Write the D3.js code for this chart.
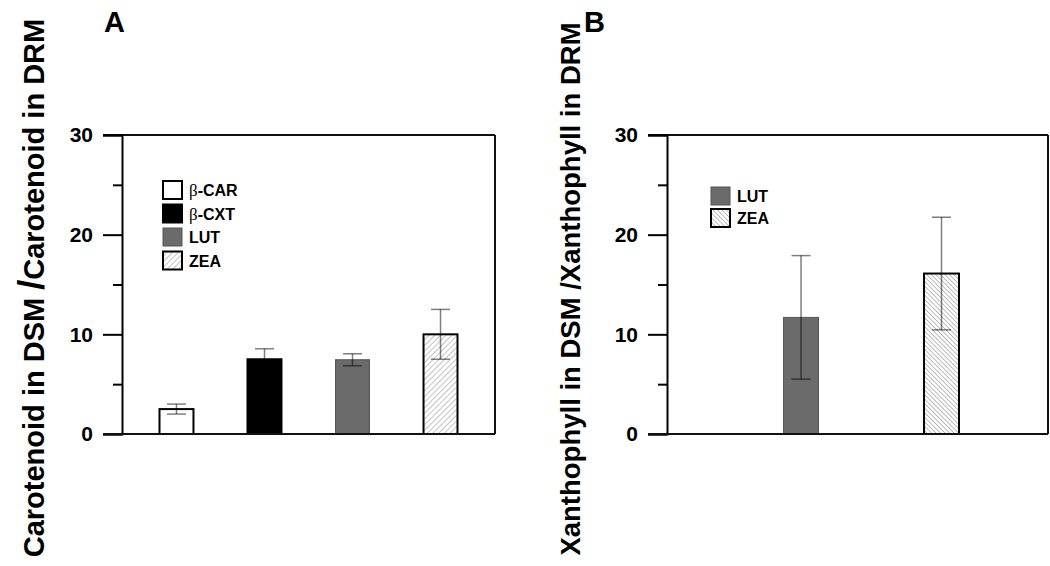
<!DOCTYPE html>
<html>
<head>
<meta charset="utf-8">
<script src="https://cdn.jsdelivr.net/npm/d3@7"></script>
<style>
  html, body { margin: 0; padding: 0; background: #fff; }
  svg { display: block; font-family: "Liberation Sans", Arial, sans-serif; }
</style>
</head>
<body>
<svg id="chart" width="1050" height="566"></svg>
<script>
// ---- Data ----
const catsA = ["β-CAR", "β-CXT", "LUT", "ZEA"];
const valsA = [2.5, 7.5, 7.45, 10.0];
const errsA = [0.5, 1.05, 0.6, 2.5];

const catsB = ["LUT", "ZEA"];
const valsB = [11.7, 16.1];
const errsB = [6.2, 5.65];

const yTicks = [0, 10, 20, 30];
const yMinorTicks = [5, 15, 25];

const titleA = ["Carotenoid in DSM ", "/", "Carotenoid in DRM"];
const titleB = ["Xanthophyll in DSM ", "/", "Xanthophyll in DRM"];

// ---- Setup ----
const svg = d3.select("#chart");
const defs = svg.append("defs");

function hatch(id, dir, spacing, color, width) {
  const p = defs.append("pattern")
    .attr("id", id).attr("patternUnits", "userSpaceOnUse")
    .attr("width", spacing).attr("height", spacing)
    .attr("patternTransform", `rotate(${dir})`);
  p.append("rect").attr("width", spacing).attr("height", spacing).attr("fill", "#fff");
  p.append("line").attr("x1", 0).attr("y1", 0).attr("x2", 0).attr("y2", spacing)
    .attr("stroke", color).attr("stroke-width", width);
}
hatch("hatchA", 45, 4, "#9a9a9a", 1.2);
hatch("hatchB", -45, 3.2, "#8a8a8a", 1.1);

const styleA = {
  "β-CAR": { fill: "#fff", stroke: "#000", sw: 2 },
  "β-CXT": { fill: "#000", stroke: "#000", sw: 2 },
  "LUT": { fill: "#6b6b6b", stroke: "#555", sw: 1 },
  "ZEA": { fill: "url(#hatchA)", stroke: "#000", sw: 2 }
};
const styleB = {
  "LUT": { fill: "#6b6b6b", stroke: "#555", sw: 1 },
  "ZEA": { fill: "url(#hatchB)", stroke: "#000", sw: 2 }
};

function panel(cfg) {
  const { x0, x1, y0, y1, cats, vals, errs, styles, xScale, legend, title, letter } = cfg;
  const y = d3.scaleLinear().domain([0, 30]).range([y1, y0]);
  const g = svg.append("g");

  // frame (top and right)
  g.append("line").attr("x1", x0 - 19).attr("x2", x1).attr("y1", y(30)).attr("y2", y(30))
    .attr("stroke", "#111").attr("stroke-width", 2);
  g.append("line").attr("x1", x1).attr("x2", x1).attr("y1", y(30)).attr("y2", y(0))
    .attr("stroke", "#111").attr("stroke-width", 2);

  // y axis
  const ax = g.append("g").attr("transform", `translate(${x0},0)`)
    .call(d3.axisLeft(y).tickValues(yTicks).tickSize(19).tickPadding(10).tickFormat(d3.format("d")));
  ax.select(".domain").attr("stroke", "#000").attr("stroke-width", 2);
  ax.selectAll(".tick line").attr("stroke", "#000").attr("stroke-width", 2);
  ax.selectAll(".tick text").attr("font-size", 21).attr("font-weight", "bold")
    .attr("font-family", "Liberation Sans, Arial, sans-serif").attr("fill", "#000");
  const axm = g.append("g").attr("transform", `translate(${x0},0)`)
    .call(d3.axisLeft(y).tickValues(yMinorTicks).tickSize(9).tickFormat(""));
  axm.select(".domain").remove();
  axm.selectAll(".tick line").attr("stroke", "#000").attr("stroke-width", 2);

  // bars
  g.selectAll("rect.bar").data(cats).join("rect").attr("class", "bar")
    .attr("x", d => xScale(d)).attr("width", xScale.bandwidth())
    .attr("y", (d, i) => y(vals[i])).attr("height", (d, i) => y(0) - y(vals[i]))
    .attr("fill", d => styles[d].fill).attr("stroke", d => styles[d].stroke)
    .attr("stroke-width", d => styles[d].sw);

  // error bars (semi-transparent black: gray on white, darker on gray, hidden on black)
  const cw = 9.5;
  cats.forEach((c, i) => {
    const cx = xScale(c) + xScale.bandwidth() / 2;
    const hi = y(vals[i] + errs[i]), lo = y(vals[i] - errs[i]);
    const eg = g.append("g").attr("stroke", "#000").attr("stroke-opacity", 0.5).attr("stroke-width", 1.5);
    eg.append("line").attr("x1", cx).attr("x2", cx).attr("y1", hi).attr("y2", lo);
    eg.append("line").attr("x1", cx - cw).attr("x2", cx + cw).attr("y1", hi).attr("y2", hi);
    eg.append("line").attr("x1", cx - cw).attr("x2", cx + cw).attr("y1", lo).attr("y2", lo);
  });

  // baseline (bottom axis)
  g.append("line").attr("x1", x0 - 19).attr("x2", x1).attr("y1", y(0)).attr("y2", y(0))
    .attr("stroke", "#111").attr("stroke-width", 2);

  // legend
  const lg = g.append("g");
  cats.forEach((c, i) => {
    const ly = legend.y + i * legend.step;
    lg.append("rect").attr("x", legend.x).attr("y", ly).attr("width", 19).attr("height", 18)
      .attr("fill", styles[c].fill).attr("stroke", styles[c].stroke)
      .attr("stroke-width", styles[c].sw);
    const t = lg.append("text").attr("x", legend.x + 26).attr("y", ly + 15)
      .attr("font-size", 16).attr("font-weight", "bold").attr("fill", "#000");
    if (c.startsWith("β")) {
      t.append("tspan").text("β").attr("font-weight", "normal")
        .attr("font-family", "Liberation Serif, serif").attr("font-size", 17);
      t.append("tspan").text(c.slice(1));
    } else {
      t.text(c);
    }
  });

  // y title
  const tt = svg.append("text")
    .attr("transform", `translate(${title.x},${title.y}) rotate(-90)`)
    .attr("text-anchor", "middle").attr("font-size", title.size).attr("font-weight", "bold")
    .attr("fill", "#000");
  tt.append("tspan").text(title.parts[0]);
  tt.append("tspan").text(title.parts[1]).attr("font-size", title.slashSize);
  tt.append("tspan").text(title.parts[2]);

  // panel letter
  svg.append("text").attr("x", letter.x).attr("y", letter.y).text(letter.t)
    .attr("font-size", 29).attr("font-weight", "bold").attr("fill", "#000");
}

// Panel A
const xA = d3.scaleBand().domain(catsA).range([122, 495]).paddingInner(0.614).paddingOuter(0.426);
panel({
  x0: 122, x1: 495, y0: 135, y1: 434,
  cats: catsA, vals: valsA, errs: errsA, styles: styleA, xScale: xA,
  legend: { x: 163, y: 181, step: 23.5 },
  title: { x: 44, y: 288, size: 29, parts: titleA, slashSize: 36 },
  letter: { x: 104, y: 32, t: "A" }
});

// Panel B
const xB = d3.scaleBand().domain(catsB).range([667, 1048]).paddingInner(0.751).paddingOuter(0.7315).align(0.567);
panel({
  x0: 667, x1: 1048, y0: 135, y1: 434,
  cats: catsB, vals: valsB, errs: errsB, styles: styleB, xScale: xB,
  legend: { x: 711, y: 187, step: 22 },
  title: { x: 580, y: 289, size: 27.5, parts: titleB, slashSize: 27.5 },
  letter: { x: 584, y: 32, t: "B" }
});
</script>
</body>
</html>
